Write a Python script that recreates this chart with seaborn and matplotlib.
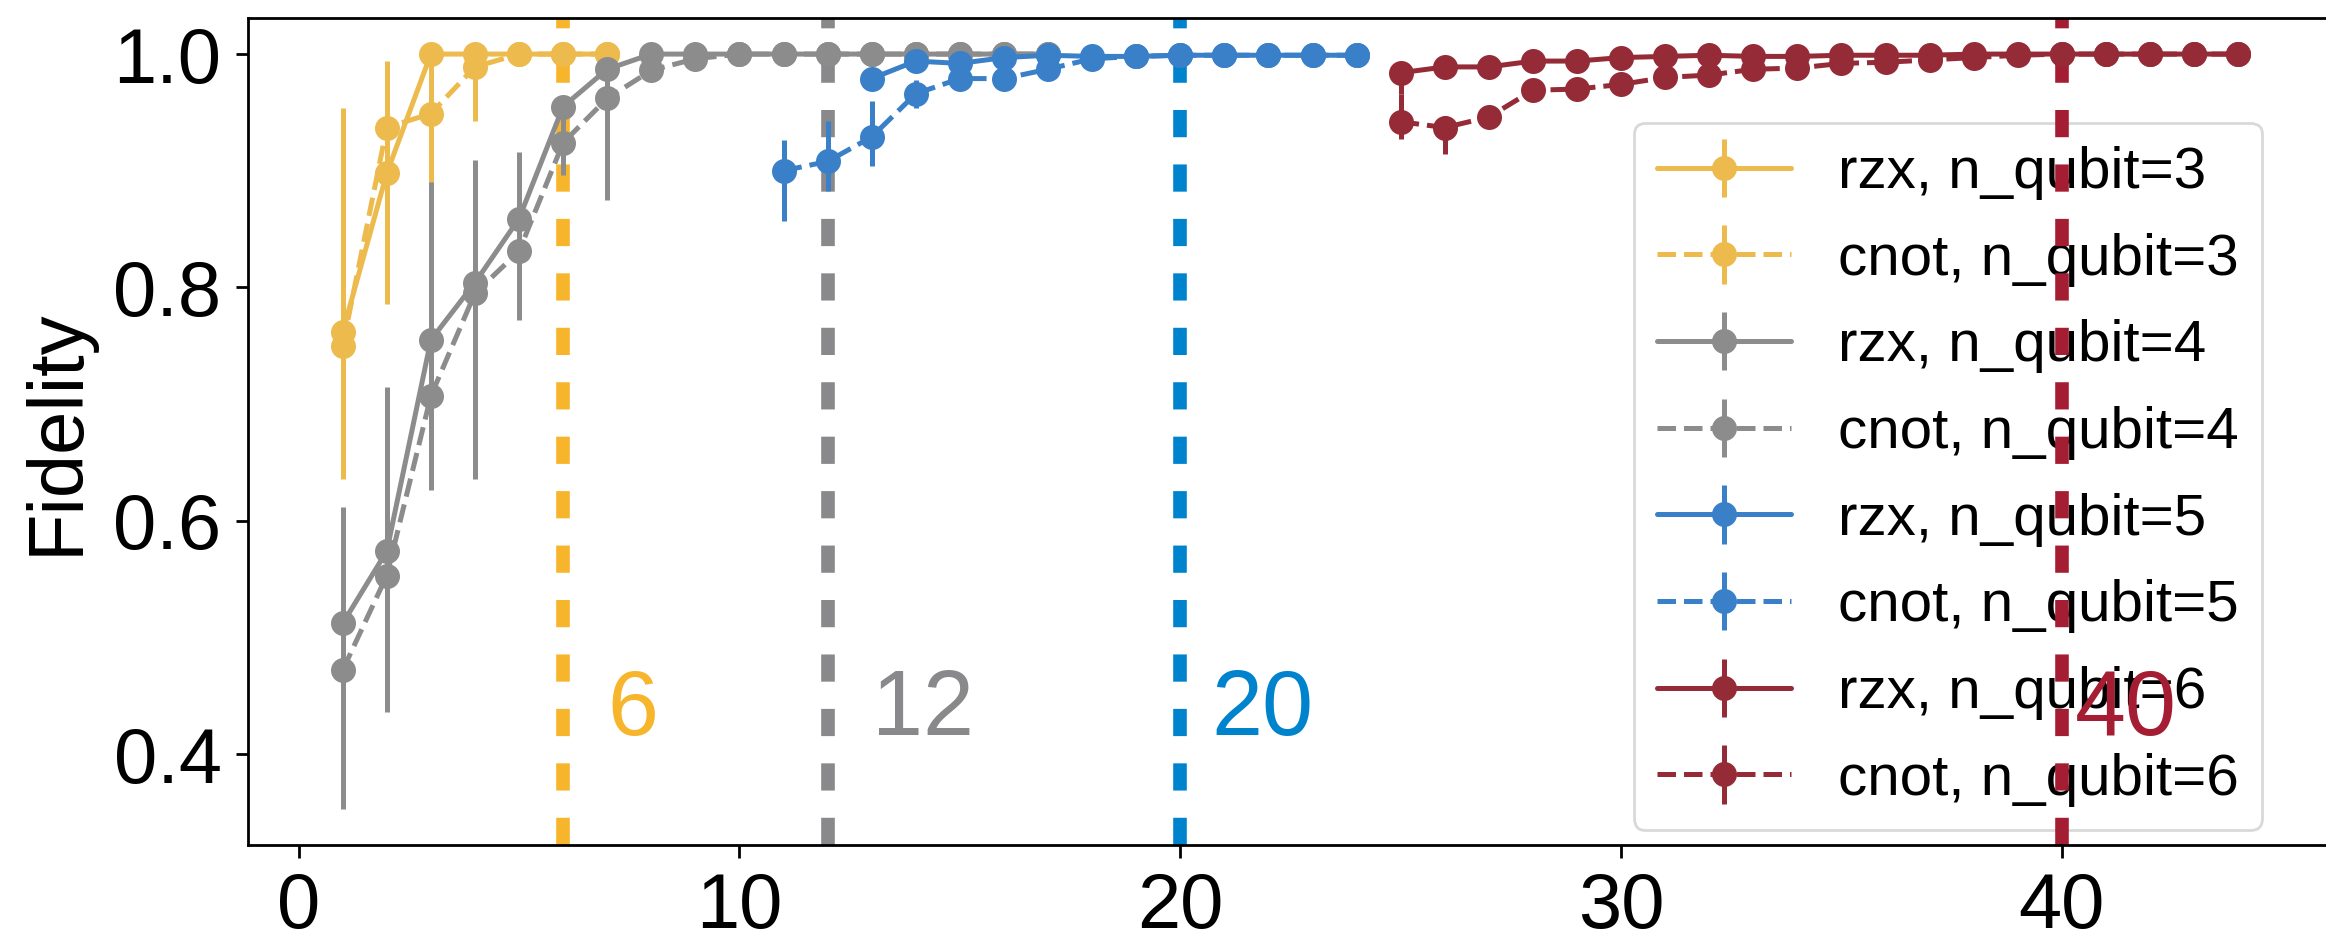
import numpy as np
import matplotlib
matplotlib.use("Agg")
import matplotlib.pyplot as plt
import seaborn as sns

# layer counts (x) for each qubit number
layers_q3 = [1, 2, 3, 4, 5, 6, 7]
layers_q4 = list(range(1, 18))
layers_q5_rzx = list(range(13, 25))
layers_q5_cnot = list(range(11, 25))
layers_q6 = list(range(25, 45))

# fidelity means
rzx_q3 = [0.762, 0.898, 1.0, 1.0, 1.0, 1.0, 1.0]
cnot_q3 = [0.750, 0.937, 0.949, 0.989, 1.0, 1.0, 1.0]
rzx_q4 = [0.512, 0.574, 0.755, 0.804, 0.859, 0.955, 0.987, 1.0, 1.0,
          1.0, 1.0, 1.0, 1.0, 1.0, 1.0, 1.0, 1.0]
cnot_q4 = [0.472, 0.553, 0.707, 0.795, 0.831, 0.924, 0.962, 0.986, 0.996,
           1.0, 1.0, 1.0, 1.0, 1.0, 1.0, 1.0, 1.0]
rzx_q5 = [0.979, 0.994, 0.992, 0.997, 0.999, 0.998, 0.998, 0.999,
          0.999, 0.999, 0.999, 0.999]
cnot_q5 = [0.900, 0.908, 0.929, 0.966, 0.979, 0.979, 0.987, 0.996,
           0.998, 0.999, 0.999, 0.999, 0.999, 0.999]
rzx_q6 = [0.984, 0.989, 0.989, 0.994, 0.994, 0.997, 0.998, 0.999, 0.998, 0.998,
          0.999, 0.999, 0.999, 1.0, 1.0, 1.0, 1.0, 1.0, 1.0, 1.0]
cnot_q6 = [0.942, 0.937, 0.946, 0.969, 0.970, 0.974, 0.980, 0.982, 0.987, 0.988,
           0.992, 0.993, 0.995, 0.997, 0.999, 1.0, 1.0, 1.0, 1.0, 1.0]

# error bars (below, above)
rzx_q3_lo = [0.126, 0.112, 0, 0, 0, 0, 0]
rzx_q3_hi = [0.192, 0.096, 0, 0, 0, 0, 0]
cnot_q3_lo = [0, 0, 0.060, 0.046, 0, 0, 0]
cnot_q3_hi = [0, 0, 0.050, 0.010, 0, 0, 0]
rzx_q4_lo = [0.159, 0.138, 0.129, 0.168, 0, 0, 0] + [0] * 10
rzx_q4_hi = [0.100, 0.141, 0.135, 0.105, 0, 0, 0] + [0] * 10
cnot_q4_lo = [0, 0, 0, 0, 0.059, 0.028, 0.087] + [0] * 10
cnot_q4_hi = [0, 0, 0, 0, 0.085, 0.030, 0.030] + [0] * 10
rzx_q5_lo = [0] * 12
rzx_q5_hi = [0] * 12
cnot_q5_lo = [0.043, 0.025, 0.025, 0.012] + [0] * 10
cnot_q5_hi = [0.026, 0.035, 0.031, 0.012] + [0] * 10
rzx_q6_lo = [0.018] + [0] * 19
rzx_q6_hi = [0.0] + [0] * 19
cnot_q6_lo = [0.015, 0.023] + [0] * 18
cnot_q6_hi = [0.024, 0.010] + [0] * 18

# threshold lines and their labels
thresholds = [6, 12, 20, 40]
threshold_labels = ["6", "12", "20", "40"]
label_offsets = [1.0, 1.0, 0.7, 0.3]
label_y = 0.416

series_colors = ["#EDBA4D", "#8C8C8D", "#3A80C8", "#952B37"]
line_colors = ["#F7B52B", "#89898B", "#0083CD", "#A51D33"]

sns.set_theme(style="ticks")
plt.rcParams["font.family"] = ["Liberation Sans", "DejaVu Sans"]
plt.rcParams.update({"text.color": "black", "axes.labelcolor": "black",
                     "xtick.color": "black", "ytick.color": "black",
                     "axes.edgecolor": "black"})

fig = plt.figure(figsize=(11.63, 4.665), dpi=200)
ax = fig.add_axes([0.1066, 0.0943, 0.8964, 0.8865])

series = [
    (layers_q3, rzx_q3, rzx_q3_lo, rzx_q3_hi, "-", 0, "rzx, n_qubit=3"),
    (layers_q3, cnot_q3, cnot_q3_lo, cnot_q3_hi, "--", 0, "cnot, n_qubit=3"),
    (layers_q4, rzx_q4, rzx_q4_lo, rzx_q4_hi, "-", 1, "rzx, n_qubit=4"),
    (layers_q4, cnot_q4, cnot_q4_lo, cnot_q4_hi, "--", 1, "cnot, n_qubit=4"),
    (layers_q5_rzx, rzx_q5, rzx_q5_lo, rzx_q5_hi, "-", 2, "rzx, n_qubit=5"),
    (layers_q5_cnot, cnot_q5, cnot_q5_lo, cnot_q5_hi, "--", 2, "cnot, n_qubit=5"),
    (layers_q6, rzx_q6, rzx_q6_lo, rzx_q6_hi, "-", 3, "rzx, n_qubit=6"),
    (layers_q6, cnot_q6, cnot_q6_lo, cnot_q6_hi, "--", 3, "cnot, n_qubit=6"),
]

for xs, ys, lo, hi, ls, ci, lab in series:
    ax.errorbar(xs, ys, yerr=[lo, hi], fmt="o", linestyle=ls,
                color=series_colors[ci], ms=9, mew=0, lw=1.8,
                elinewidth=1.8, capsize=0, label=lab, zorder=2)

for i, xv in enumerate(thresholds):
    ax.axvline(xv, color=line_colors[i], lw=4.9, linestyle=(0, (2, 2)),
               zorder=1.5)
    ax.text(xv + label_offsets[i], label_y, threshold_labels[i],
            color=line_colors[i], fontsize=33, va="baseline", zorder=3)

ax.set_xlim(-1.15, 46.15)
ax.set_ylim(0.322, 1.031)
ax.set_xticks([0, 10, 20, 30, 40])
ax.set_yticks([0.4, 0.6, 0.8, 1.0])
ax.tick_params(labelsize=28, length=4.5, width=1, pad=5, color="black")
ax.set_ylabel("Fidelity", fontsize=28, labelpad=7)
for sp in ax.spines.values():
    sp.set_color("black")
    sp.set_linewidth(1)

leg = ax.legend(loc="lower right", bbox_to_anchor=(0.966, 0.018),
                borderaxespad=0, fontsize=21, labelspacing=0.56,
                handlelength=2.3, frameon=True, fancybox=True,
                framealpha=1, edgecolor="#d9d9d9", facecolor="white")
leg.set_zorder(1)

fig.savefig("out.png", dpi=200)
